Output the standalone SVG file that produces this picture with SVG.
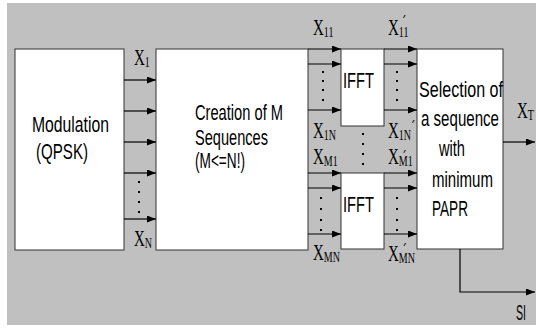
<svg xmlns="http://www.w3.org/2000/svg" width="540" height="328" viewBox="0 0 540 328">
<defs>
<marker id="ah" markerWidth="9" markerHeight="7" refX="9" refY="3.5" orient="auto" markerUnits="userSpaceOnUse">
<path d="M0,0 L9,3.5 L0,7 Z" fill="#000"/>
</marker>
<style>
.box{fill:#fff;stroke:#333;stroke-width:1}
.ar{stroke:#000;stroke-width:1.2;fill:none;marker-end:url(#ah)}
.t{font-family:"Liberation Sans",Arial,sans-serif;font-size:15px;fill:#000}
.x{font-family:"Liberation Serif","Times New Roman",serif;font-size:15px;fill:#000}
.s{font-size:10px}
.p{font-family:"DejaVu Sans",sans-serif;font-size:11px}
.d{fill:#000}
</style>
</defs>
<rect x="7" y="3" width="529" height="322" fill="#c0c0c0"/>

<g id="modulation">
<rect class="box" x="15" y="49" width="109" height="201"/>
<text class="t" transform="translate(32,132) scale(1,1.5)" textLength="77" lengthAdjust="spacingAndGlyphs">Modulation</text>
<text class="t" transform="translate(36,159) scale(1,1.5)" textLength="52" lengthAdjust="spacingAndGlyphs">(QPSK)</text>
</g>

<g id="creation">
<rect class="box" x="156" y="49" width="152" height="201"/>
<text class="t" transform="translate(195,120) scale(1,1.5)" textLength="88" lengthAdjust="spacingAndGlyphs">Creation of M</text>
<text class="t" transform="translate(195,145) scale(1,1.5)" textLength="73" lengthAdjust="spacingAndGlyphs">Sequences</text>
<text class="t" transform="translate(195,168) scale(1,1.5)" textLength="50" lengthAdjust="spacingAndGlyphs">(M&lt;=N!)</text>
</g>

<g id="ifft1">
<rect class="box" x="341" y="49" width="43" height="77"/>
<text class="t" transform="translate(343,88) scale(1,1.5)" textLength="31" lengthAdjust="spacingAndGlyphs">IFFT</text>
</g>

<g id="ifft2">
<rect class="box" x="341" y="173" width="43" height="76"/>
<text class="t" transform="translate(343,212) scale(1,1.5)" textLength="31" lengthAdjust="spacingAndGlyphs">IFFT</text>
</g>

<g id="selection">
<rect class="box" x="417" y="49" width="86" height="200"/>
<text class="t" transform="translate(419,97) scale(1,1.5)" textLength="84" lengthAdjust="spacingAndGlyphs">Selection of</text>
<text class="t" transform="translate(421,126) scale(1,1.5)" textLength="78" lengthAdjust="spacingAndGlyphs">a sequence</text>
<text class="t" transform="translate(439,156) scale(1,1.5)" textLength="26" lengthAdjust="spacingAndGlyphs">with</text>
<text class="t" transform="translate(432,187) scale(1,1.5)" textLength="61" lengthAdjust="spacingAndGlyphs">minimum</text>
<text class="t" transform="translate(432,216) scale(1,1.5)" textLength="36" lengthAdjust="spacingAndGlyphs">PAPR</text>
</g>

<g id="connectors">
<line class="ar" x1="124" y1="80" x2="156" y2="80"/>
<line class="ar" x1="124" y1="111" x2="156" y2="111"/>
<line class="ar" x1="124" y1="142" x2="156" y2="142"/>
<line class="ar" x1="124" y1="173" x2="156" y2="173"/>
<line class="ar" x1="124" y1="219" x2="156" y2="219"/>

<line class="ar" x1="308" y1="49" x2="341" y2="49"/>
<line class="ar" x1="308" y1="64" x2="341" y2="64"/>
<line class="ar" x1="308" y1="110" x2="341" y2="110"/>
<line class="ar" x1="384" y1="49" x2="417" y2="49"/>
<line class="ar" x1="384" y1="64" x2="417" y2="64"/>
<line class="ar" x1="384" y1="110" x2="417" y2="110"/>

<line class="ar" x1="308" y1="173" x2="341" y2="173"/>
<line class="ar" x1="308" y1="188" x2="341" y2="188"/>
<line class="ar" x1="308" y1="234" x2="341" y2="234"/>
<line class="ar" x1="384" y1="173" x2="417" y2="173"/>
<line class="ar" x1="384" y1="188" x2="417" y2="188"/>
<line class="ar" x1="384" y1="234" x2="417" y2="234"/>

<line class="ar" x1="503" y1="142" x2="535" y2="142"/>
<path class="ar" d="M460,249 V292 H535"/>
</g>

<g id="dots">
<rect class="d" x="138" y="181" width="2" height="2"/>
<rect class="d" x="138" y="191" width="2" height="2"/>
<rect class="d" x="138" y="201" width="2" height="2"/>
<rect class="d" x="138" y="211" width="2" height="2"/>

<rect class="d" x="322" y="71" width="2" height="2"/>
<rect class="d" x="322" y="80" width="2" height="2"/>
<rect class="d" x="322" y="89" width="2" height="2"/>
<rect class="d" x="322" y="99" width="2" height="2"/>
<rect class="d" x="396" y="71" width="2" height="2"/>
<rect class="d" x="396" y="80" width="2" height="2"/>
<rect class="d" x="396" y="89" width="2" height="2"/>
<rect class="d" x="396" y="99" width="2" height="2"/>

<rect class="d" x="362" y="133" width="2" height="2"/>
<rect class="d" x="362" y="143" width="2" height="2"/>
<rect class="d" x="362" y="153" width="2" height="2"/>
<rect class="d" x="362" y="163" width="2" height="2"/>

<rect class="d" x="320" y="197" width="2" height="2"/>
<rect class="d" x="320" y="208" width="2" height="2"/>
<rect class="d" x="320" y="219" width="2" height="2"/>
<rect class="d" x="320" y="229" width="2" height="2"/>
<rect class="d" x="396" y="197" width="2" height="2"/>
<rect class="d" x="396" y="208" width="2" height="2"/>
<rect class="d" x="396" y="219" width="2" height="2"/>
<rect class="d" x="396" y="229" width="2" height="2"/>
</g>

<g id="labels">
<text class="x" transform="translate(134,65) scale(1,1.5)">X<tspan class="s" dy="1.5">1</tspan></text>
<text class="x" transform="translate(134,246) scale(1,1.5)">X<tspan class="s" dy="1.5">N</tspan></text>

<text class="x" transform="translate(313,35) scale(1,1.5)">X<tspan class="s" dy="1.5">11</tspan></text>
<text class="x" transform="translate(313,138) scale(1,1.5)">X<tspan class="s" dy="1.5">1N</tspan></text>
<text class="x" transform="translate(313,164) scale(1,1.5)">X<tspan class="s" dy="1.5">M1</tspan></text>
<text class="x" transform="translate(313,260) scale(1,1.5)">X<tspan class="s" dy="1.5">MN</tspan></text>

<text class="x" transform="translate(388,35) scale(1,1.5)">X<tspan class="s" dy="1.5">11</tspan><tspan class="p" dx="-7.5" dy="-6">´</tspan></text>
<text class="x" transform="translate(388,138) scale(1,1.5)">X<tspan class="s" dy="1.5">1N</tspan><tspan class="p" dx="-1" dy="-5">´</tspan></text>
<text class="x" transform="translate(388,164) scale(1,1.5)">X<tspan class="s" dy="1.5">M1</tspan><tspan class="p" dx="-11.5" dy="-2">´</tspan></text>
<text class="x" transform="translate(388,261) scale(1,1.5)">X<tspan class="s" dy="1.5">MN</tspan><tspan class="p" dx="-13.5" dy="-5">´</tspan></text>

<text class="x" transform="translate(517,118) scale(1,1.5)">X<tspan class="s" dy="1.5">T</tspan></text>
<text class="t" transform="translate(516,320) scale(1,1.5)" textLength="10" lengthAdjust="spacingAndGlyphs">SI</text>
</g>
</svg>
